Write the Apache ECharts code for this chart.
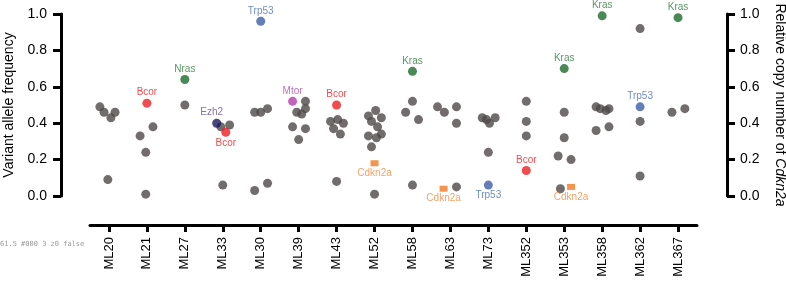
<!DOCTYPE html>
<html>
<head>
<meta charset="utf-8">
<script src="https://cdn.jsdelivr.net/npm/echarts@6/dist/echarts.min.js"></script>
<style>
  html, body { margin: 0; padding: 0; background: #fff; }
  #chart { width: 786px; height: 285px; }
  #dbg { position: absolute; left: 0; top: 240px; font: 7px monospace; color: #999; white-space: pre; }
</style>
</head>
<body>
<div id="chart"></div>
<div id="dbg"></div>
<script>
// samples on the x axis
const categories = ['ML20', 'ML21', 'ML27', 'ML33', 'ML30', 'ML39', 'ML43', 'ML52',
  'ML58', 'ML63', 'ML73', 'ML352', 'ML353', 'ML358', 'ML362', 'ML367']

// grey dots: variant allele frequency of unlabelled mutations
const pointSample = [
  'ML20', 'ML20', 'ML20', 'ML20', 'ML20',
  'ML21', 'ML21', 'ML21', 'ML21',
  'ML27',
  'ML33', 'ML33', 'ML33',
  'ML30', 'ML30', 'ML30', 'ML30', 'ML30',
  'ML39', 'ML39', 'ML39', 'ML39', 'ML39', 'ML39', 'ML39',
  'ML43', 'ML43', 'ML43', 'ML43', 'ML43', 'ML43',
  'ML52', 'ML52', 'ML52', 'ML52', 'ML52', 'ML52', 'ML52', 'ML52', 'ML52', 'ML52',
  'ML58', 'ML58', 'ML58', 'ML58',
  'ML63', 'ML63', 'ML63', 'ML63', 'ML63',
  'ML73', 'ML73', 'ML73', 'ML73', 'ML73',
  'ML352', 'ML352', 'ML352',
  'ML353', 'ML353', 'ML353', 'ML353', 'ML353',
  'ML358', 'ML358', 'ML358', 'ML358', 'ML358', 'ML358',
  'ML362', 'ML362', 'ML362',
  'ML367', 'ML367'
]
const pointVaf = [
  0.49, 0.46, 0.43, 0.46, 0.09,
  0.33, 0.38, 0.24, 0.01,
  0.50,
  0.38, 0.39, 0.06,
  0.46, 0.46, 0.48, 0.03, 0.07,
  0.52, 0.48, 0.46, 0.45, 0.38, 0.37, 0.31,
  0.41, 0.42, 0.40, 0.37, 0.34, 0.08,
  0.47, 0.44, 0.43, 0.41, 0.38, 0.34, 0.33, 0.32, 0.27, 0.01,
  0.52, 0.46, 0.42, 0.06,
  0.49, 0.46, 0.49, 0.40, 0.05,
  0.43, 0.42, 0.40, 0.43, 0.24,
  0.52, 0.41, 0.33,
  0.46, 0.32, 0.22, 0.20, 0.04,
  0.49, 0.48, 0.47, 0.48, 0.36, 0.38,
  0.92, 0.41, 0.11,
  0.46, 0.48
]
// horizontal spread inside a sample, in category widths
const pointJitter = [
  -0.24, -0.13, 0.05, 0.16, -0.03,
  -0.18, 0.16, -0.03, -0.03,
  0,
  -0.05, 0.18, 0,
  -0.16, 0, 0.18, -0.16, 0.18,
  0.18, 0.18, -0.05, 0.08, -0.16, 0.18, 0,
  -0.16, 0.03, 0.18, -0.08, 0.1, 0,
  0.03, -0.16, 0.18, -0.08, 0.08, 0.18, -0.16, 0.05, -0.08, 0,
  0, -0.18, 0.16, 0,
  -0.34, -0.16, 0.16, 0.16, 0.16,
  -0.16, -0.05, 0.03, 0.18, 0,
  0, 0, 0,
  0, 0, -0.16, 0.18, -0.1,
  -0.16, -0.05, 0.1, 0.18, -0.16, 0.18,
  0, 0, 0,
  -0.16, 0.18
]

// labelled driver mutations (left axis, VAF)
const mutSample = ['ML21', 'ML27', 'ML33', 'ML33', 'ML30', 'ML39', 'ML43', 'ML58',
  'ML73', 'ML352', 'ML353', 'ML358', 'ML362', 'ML367']
const mutGene = ['Bcor', 'Nras', 'Ezh2', 'Bcor', 'Trp53', 'Mtor', 'Bcor', 'Kras',
  'Trp53', 'Bcor', 'Kras', 'Kras', 'Trp53', 'Kras']
const mutVaf = [0.51, 0.64, 0.40, 0.35, 0.96, 0.52, 0.50, 0.685,
  0.06, 0.14, 0.70, 0.99, 0.49, 0.98]
const mutJitter = [0, 0, -0.16, 0.08, 0, -0.16, 0, 0, 0, 0, 0, 0, 0, 0]

// Cdkn2a relative copy number (right axis)
const cnSample = ['ML52', 'ML63', 'ML353']
const cnValue = [0.18, 0.04, 0.05]
const cnJitter = [0, -0.18, 0.18]

// styles
const FONT = '"Liberation Sans", Arial, Helvetica, sans-serif'
const geneStyle = {
  Bcor: { dot: '#ee1d23', text: '#ee1d23' },
  Nras: { dot: '#1d6b2c', text: '#2f7b3c' },
  Kras: { dot: '#1d6b2c', text: '#2f7b3c' },
  Trp53: { dot: '#3c5ea8', text: '#4f6fb3' },
  Ezh2: { dot: '#1a1660', text: '#5f4da0' },
  Mtor: { dot: '#b53cae', text: '#b04ba8' },
  Cdkn2a: { dot: '#f2791e', text: '#f08a40' }
}
// labels that sit below their dot (index into mut arrays)
const belowLabels = [3, 8]

// layout: sample axis spans 90..697, value axes stand at 61 and 727
const W = 786
const PLOT_L = 90, PLOT_R = 89
const AX_L = 61, AX_R = 59
const TOP = 14, BOTTOM = 89
const catW = (W - PLOT_L - PLOT_R) / categories.length
const xMin = -0.5 - (PLOT_L - AX_L) / catW
const xMax = categories.length - 0.5 + (PLOT_R - AX_R) / catW

const catIdx = s => categories.indexOf(s)

const greyData = pointVaf.map((v, i) => [catIdx(pointSample[i]) + pointJitter[i], v])

const mutData = mutVaf.map((v, i) => {
  const st = geneStyle[mutGene[i]]
  const below = belowLabels.includes(i)
  const lbl = {
    show: true,
    formatter: mutGene[i],
    position: below ? 'bottom' : 'top',
    distance: 1,
    color: st.text
  }
  if (mutGene[i] === 'Ezh2') lbl.offset = [-5, 0]
  return {
    value: [catIdx(mutSample[i]) + mutJitter[i], v],
    itemStyle: { color: st.dot },
    label: lbl
  }
})

const cnData = cnValue.map((v, i) => [catIdx(cnSample[i]) + cnJitter[i], v])

// fresh style object for every axis piece
const black = () => ({ color: '#000', width: 3, opacity: 1 })

const chart = echarts.init(document.getElementById('chart'), null, { renderer: 'canvas' })

const option = {
  animation: false,
  backgroundColor: '#fff',
  textStyle: { fontFamily: FONT },
  grid: [
    // points and both value axes
    { left: AX_L, right: AX_R, top: TOP, bottom: BOTTOM, outerBoundsMode: 'none' },
    // sample axis
    { left: PLOT_L, right: PLOT_R, top: TOP, bottom: BOTTOM, outerBoundsMode: 'none' }
  ],
  xAxis: [
    { gridIndex: 0, type: 'value', min: xMin, max: xMax, show: false },
    {
      gridIndex: 1,
      type: 'category',
      data: categories,
      position: 'bottom',
      offset: 29,
      axisLine: { show: true, onZero: false, lineStyle: black() },
      axisTick: { show: true, alignWithLabel: true, length: 7, lineStyle: black() },
      axisLabel: { rotate: 90, fontSize: 13, color: '#000', margin: 12, fontFamily: FONT },
      splitLine: { show: false }
    }
  ],
  yAxis: [
    {
      gridIndex: 0,
      type: 'value',
      position: 'left',
      min: 0,
      max: 1,
      interval: 0.2,
      axisLine: { show: true, onZero: false, lineStyle: black() },
      axisTick: { show: true, length: 8, lineStyle: black() },
      axisLabel: {
        fontSize: 14, color: '#000', margin: 14, fontFamily: FONT,
        formatter: v => v.toFixed(1)
      },
      splitLine: { show: false },
      name: 'Variant allele frequency',
      nameLocation: 'middle',
      nameGap: 42,
      nameTextStyle: { fontSize: 14, color: '#000', fontFamily: FONT }
    },
    {
      gridIndex: 0,
      type: 'value',
      position: 'right',
      min: 0,
      max: 1,
      interval: 0.2,
      axisLine: { show: true, onZero: false, lineStyle: black() },
      axisTick: { show: true, length: 8, lineStyle: black() },
      axisLabel: {
        fontSize: 14, color: '#000', margin: 13, fontFamily: FONT,
        formatter: v => v.toFixed(1)
      },
      splitLine: { show: false },
      name: '{a|Relative copy number of }{b|Cdkn2a}',
      nameLocation: 'middle',
      nameRotate: -90,
      nameGap: 46,
      nameTextStyle: {
        rich: {
          a: { fontSize: 14, color: '#000', fontFamily: FONT },
          b: { fontSize: 14, color: '#000', fontFamily: FONT, fontStyle: 'italic' }
        }
      }
    },
    { gridIndex: 1, type: 'value', min: 0, max: 1, show: false }
  ],
  series: [
    {
      name: 'vaf',
      type: 'scatter',
      xAxisIndex: 0,
      yAxisIndex: 0,
      symbol: 'circle',
      symbolSize: 9,
      itemStyle: { color: '#4e4949' },
      data: greyData,
      z: 2
    },
    {
      name: 'drivers',
      type: 'scatter',
      xAxisIndex: 0,
      yAxisIndex: 0,
      symbol: 'circle',
      symbolSize: 9,
      label: { fontSize: 10, fontFamily: FONT },
      data: mutData,
      z: 3
    },
    {
      name: 'Cdkn2a',
      type: 'scatter',
      xAxisIndex: 0,
      yAxisIndex: 1,
      symbol: 'rect',
      symbolSize: [8, 6],
      itemStyle: { color: geneStyle.Cdkn2a.dot },
      label: {
        show: true,
        formatter: 'Cdkn2a',
        position: 'bottom',
        distance: 2,
        fontSize: 10,
        fontFamily: FONT,
        color: geneStyle.Cdkn2a.text
      },
      data: cnData,
      z: 3
    }
  ]
}

chart.setOption(option)

// check whether the left axis line made it into the scene
const found = []
chart.getZr().storage.getDisplayList(true).forEach(el => {
  const s = el.shape
  if (s && s.x1 !== undefined && s.x1 < 80 && Math.abs(s.x1 - s.x2) < 1 && Math.abs(s.y1 - s.y2) > 50) {
    found.push(s.x1.toFixed(1) + ' ' + (el.style && el.style.stroke) + ' ' + (el.style && el.style.lineWidth) + ' z' + el.z + ' ' + el.invisible)
  }
})
if (!found.length) document.getElementById('dbg').textContent = 'no left line'
else if (found.length) document.getElementById('dbg').textContent = found.join('\n')
</script>
</body>
</html>
